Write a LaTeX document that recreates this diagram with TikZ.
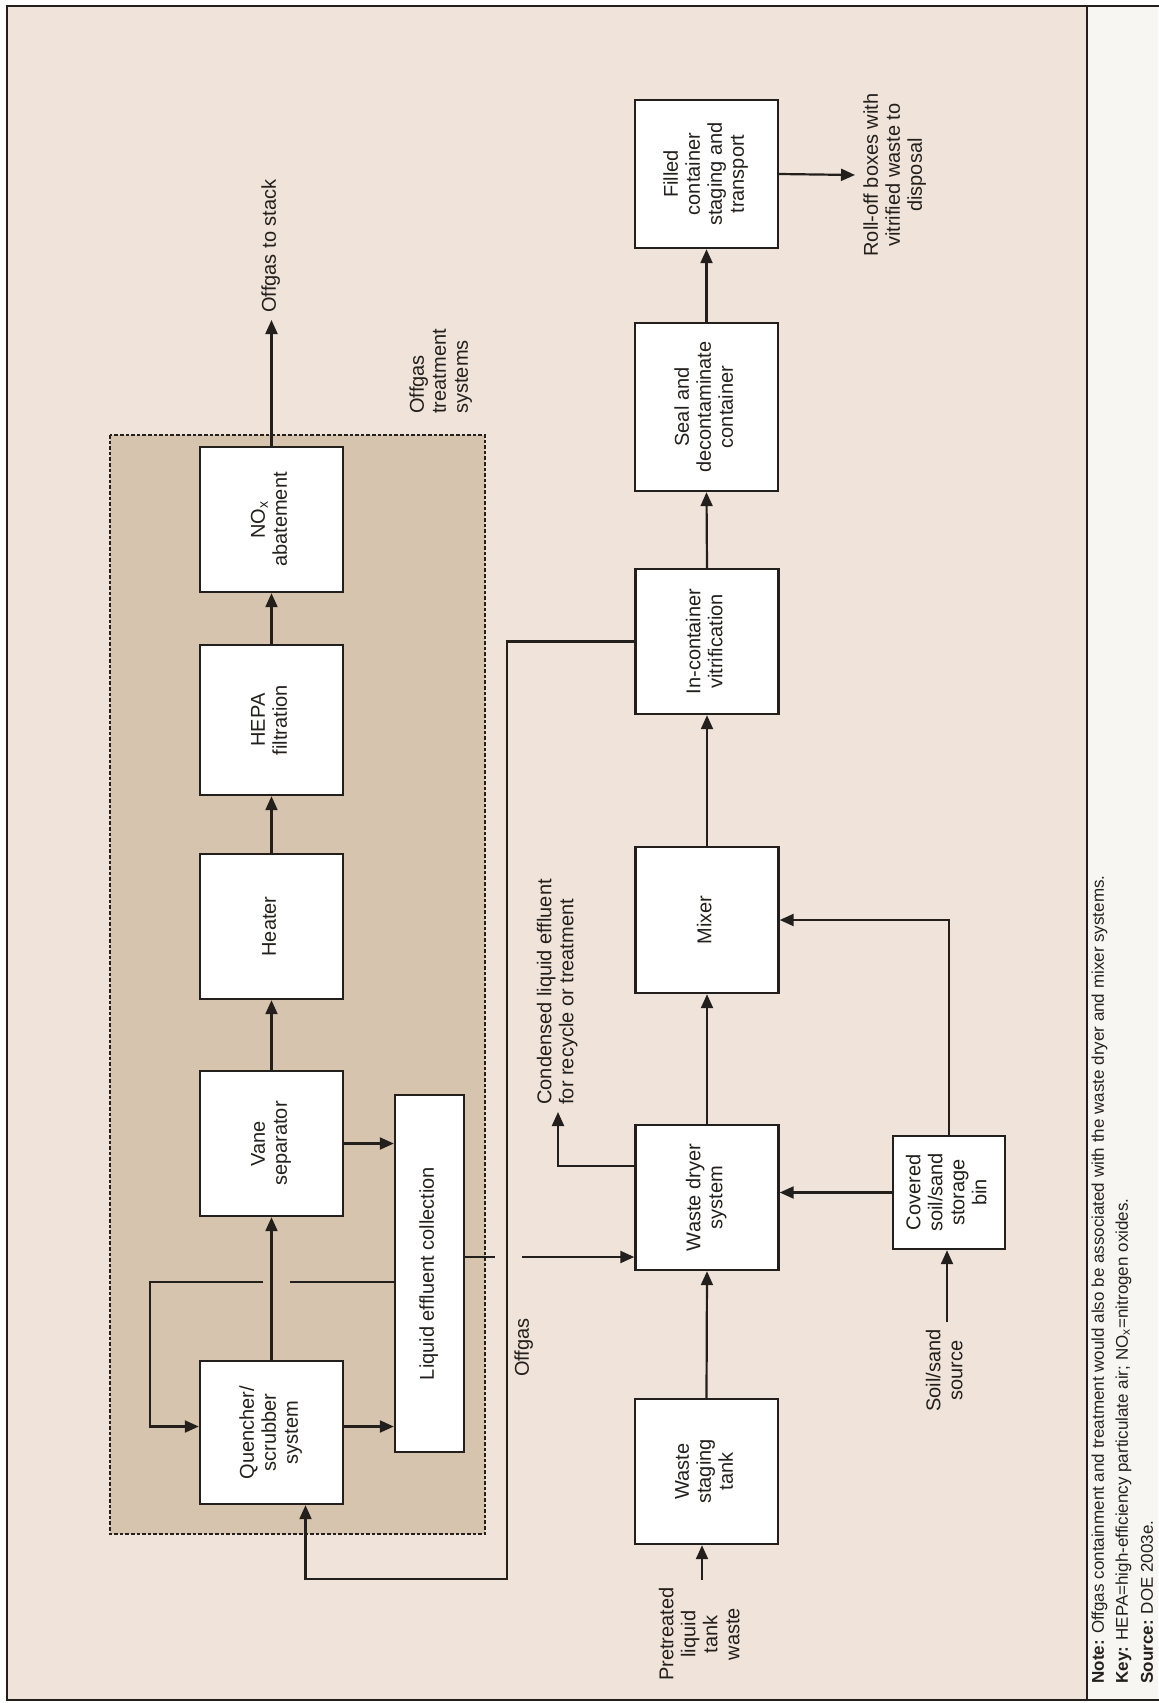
\documentclass[tikz,border=0pt]{standalone}
\usepackage{fontspec}
\setmainfont{Liberation Sans}
\usepackage{graphicx}
\usetikzlibrary{arrows.meta}
\definecolor{sheetTan}{HTML}{EFE3DA}
\definecolor{offgasTan}{HTML}{D6C4AE}
\definecolor{notePaper}{HTML}{F8F6F3}
\definecolor{inkDark}{HTML}{231F1C}
\newcommand{\sidetext}[2][c]{\rotatebox{90}{\begin{tabular}{@{}#1@{}}#2\end{tabular}}}

\begin{document}
\begin{tikzpicture}[x=0.5pt, y=-0.5pt,
      every node/.style={font=\fontsize{10}{11}\selectfont, text=inkDark},
      unit/.style={draw=inkDark, line width=1.2pt, fill=white, minimum width=71.5pt, minimum height=72.5pt, inner sep=0pt},
      flow/.style={draw=inkDark, line width=1.1pt, -{Triangle[length=7pt,width=6pt]}},
      wire/.style={draw=inkDark, line width=1.1pt},
      tag/.style={inner sep=3.5pt}]
      \useasboundingbox (0,0) rectangle (1158,1703);

      % Sheet and frame
      \fill[white] (0,0) rectangle (1158,1703);
      \fill[sheetTan] (7,6) rectangle (1087,1700);
      \fill[notePaper] (1087,6) rectangle (1158,1700);
      \draw[inkDark, line width=1.2pt] (1170,6) -- (7,6) -- (7,1700) -- (1170,1700);
      \draw[inkDark, line width=1.4pt] (1087,6) -- (1087,1700);

      % Offgas treatment systems
      \draw[fill=offgasTan, draw=inkDark, line width=1.1pt, dash pattern=on 1.8pt off 1pt] (110,435) rectangle (485,1534);
      \node[tag, anchor=south west] (otslabel) at (401,421) {\sidetext[l]{Offgas\\treatment\\systems}};
      \node[unit] (nox) at (271.5,519.5) {\sidetext{NO\textsubscript{x}\\abatement}};
      \node[unit, minimum height=75pt] (hepa) at (271.5,720) {\sidetext{HEPA\\filtration}};
      \node[unit] (heater) at (271.5,926.5) {\sidetext{Heater}};
      \node[unit] (vane) at (271.5,1143.5) {\sidetext{Vane\\separator}};
      \node[unit, minimum height=71.5pt] (quench) at (271.5,1432.5) {\sidetext{Quencher/\\scrubber\\system}};
      \node[unit, minimum width=34.5pt, minimum height=178.5pt] (le) at (429.5,1273.5) {\sidetext{Liquid effluent collection}};
      \node[tag, anchor=south] (stack) at (271.5,320) {\sidetext{Offgas to stack}};

      % Waste line
      \node[unit, minimum height=74pt] (filled) at (706.5,174) {\sidetext{Filled\\container\\staging and\\transport}};
      \node[unit, minimum height=84pt] (seal) at (706.5,407) {\sidetext{Seal and\\decontaminate\\container}};
      \node[unit] (vitrif) at (707,641.5) {\sidetext{In-container\\vitrification}};
      \node[unit, minimum height=73pt] (mixer) at (707,920) {\sidetext{Mixer}};
      \node[unit] (dryer) at (707,1197.5) {\sidetext{Waste dryer\\system}};
      \node[unit] (tank) at (706.5,1471.5) {\sidetext{Waste\\staging\\tank}};
      \node[unit, minimum width=56pt, minimum height=56.5pt] (bin) at (949,1192.5) {\sidetext{Covered\\soil/sand\\storage\\bin}};
      \node[tag, anchor=west] (rolloff) at (855,175) {\sidetext{Roll-off boxes with\\vitrified waste to\\disposal}};
      \node[tag, anchor=south] (condensed) at (558,1112) {\sidetext[l]{Condensed liquid effluent\\for recycle or treatment}};
      \node[tag] (offgaslabel) at (524.5,1347.5) {\sidetext{Offgas}};
      \node[tag, anchor=north] (pretreated) at (702,1580) {\sidetext{Pretreated\\liquid\\tank\\waste}};
      \node[tag, anchor=north] (soilsource) at (947,1322) {\sidetext{Soil/sand\\source}};

      % Offgas train
      \foreach \a/\b in {quench/vane, vane/heater, heater/hepa, hepa/nox} {
            \draw[flow] (\a.north) -- (\b.south);
      }
      \draw[flow] (nox.north) -- (stack.south);
      \draw[flow] (vane.east) -- (vane.east -| le.west);
      \draw[flow] ([yshift=3pt]quench.east) -- ([yshift=3pt]quench.east -| le.west);

      % Recycle loop, broken where it crosses the offgas arrow
      \coordinate (recycA) at (290,1282);
      \coordinate (recycB) at (263,1282);
      \coordinate (recycC) at (150,1282);
      \draw[wire] (le.west |- recycA) -- (recycA);
      \draw[flow] (recycB) -- (recycC) |- ([yshift=3pt]quench.west);

      % Liquid effluent to dryer, broken at the offgas line
      \coordinate (leA) at (495,1257);
      \coordinate (leB) at (522,1257);
      \draw[wire] (le.east |- leA) -- (leA);
      \draw[flow] (leB) -- (dryer.west |- leB);

      % Offgas back to quencher
      \coordinate (ogDown) at (507,1579);
      \draw[flow] (vitrif.west) -| (ogDown) -| ([xshift=17pt]quench.south);

      % Waste line
      \foreach \a/\b in {tank/dryer, dryer/mixer, mixer/vitrif, vitrif/seal, seal/filled} {
            \draw[flow] (\a.north) -- (\b.south);
      }
      \draw[flow] (filled.east) -- (rolloff.west);
      \draw[flow] (pretreated.north) -- (pretreated.north |- tank.south);
      \draw[flow] (soilsource.north) -- (soilsource.north |- bin.south);
      \draw[flow] (bin.west) -- (bin.west -| dryer.east);
      \draw[flow] (bin.north) |- (mixer.east);
      \coordinate (condTurn) at (558,1166);
      \draw[flow] (dryer.west |- condTurn) -| (condensed.south);

      % Notes
      \node[anchor=south, inner sep=0pt] (note) at (1100,1684) {\fontsize{8.5}{9.5}\selectfont\sidetext[l]{\textbf{Note:} Offgas containment and treatment would also be associated with the waste dryer and mixer systems.}};
      \node[anchor=south, inner sep=0pt] (key) at (1124,1684) {\fontsize{8.5}{9.5}\selectfont\sidetext[l]{\textbf{Key:} HEPA=high-efficiency particulate air; NO\textsubscript{x}=nitrogen oxides.}};
      \node[anchor=south, inner sep=0pt] (source) at (1149,1684) {\fontsize{8.5}{9.5}\selectfont\sidetext[l]{\textbf{Source:} DOE 2003e.}};
\end{tikzpicture}
\end{document}
